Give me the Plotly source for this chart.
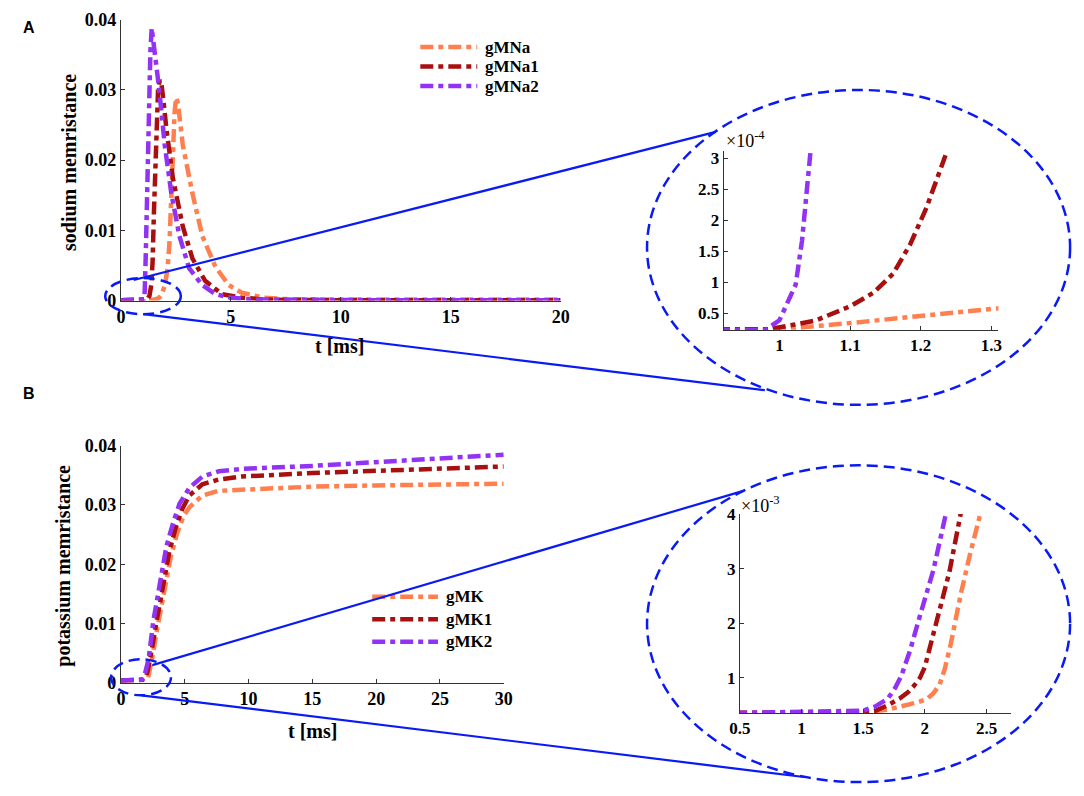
import plotly.graph_objects as go

W, H = 1084, 796

# ---- panel A: sodium memristance (t in ms) ----
na2_t = [0, 0.98, 1.0, 1.023, 1.032, 1.039, 1.044, 1.08, 1.13, 1.17, 1.22, 1.28, 1.34, 1.40,
         1.47, 1.58, 1.69, 1.84, 1.99, 2.29, 2.66, 3.1, 3.7, 4.3, 5.0, 6.0, 8.0, 12, 20]
na2_v = [2.3e-5, 2.3e-5, 3.85e-5, 9.6e-5, 1.67e-4, 2.46e-4, 3.11e-4, 0.0012, 0.0065, 0.0129, 0.020,
         0.0268, 0.0355, 0.0388, 0.0372, 0.034, 0.0314, 0.027, 0.0222, 0.0153, 0.0092, 0.0046, 0.0022,
         0.0009, 0.0004, 0.00015, 0.00006, 0.00004, 0.00004]

na1_t = [0, 0.985, 1.009, 1.051, 1.10, 1.133, 1.161, 1.185, 1.208, 1.237, 1.30, 1.38, 1.44, 1.50,
         1.56, 1.62, 1.69, 1.77, 1.85, 1.95, 2.07, 2.36, 2.81, 3.25, 3.83, 4.6, 5.5, 6.5, 8, 12, 20]
na1_v = [2.3e-5, 2.4e-5, 2.9e-5, 3.8e-5, 6.1e-5, 8.3e-5, 1.14e-4, 1.61e-4, 2.2e-4, 3.11e-4, 0.0007,
         0.0022, 0.0055, 0.0125, 0.020, 0.0268, 0.0302, 0.0314, 0.0307, 0.028, 0.0244, 0.0175, 0.0106,
         0.006, 0.0028, 0.0009, 0.0004, 0.00015, 0.00006, 0.00004, 0.00004]

na_t = [0, 0.98, 1.0, 1.1, 1.2, 1.31, 1.5, 1.7, 1.85, 2.0, 2.12, 2.21, 2.27, 2.33, 2.44, 2.51, 2.6,
        2.81, 3.25, 3.7, 4.3, 4.9, 5.5, 6.5, 7.5, 9, 12, 20]
na_v = [2.3e-5, 2.3e-5, 2.4e-5, 3.4e-5, 4.5e-5, 5.8e-5, 1.1e-4, 3e-4, 0.0008, 0.0022, 0.0045, 0.0083,
        0.014, 0.0199, 0.0268, 0.0289, 0.028, 0.0222, 0.0153, 0.0092, 0.0048, 0.0022, 0.0011, 0.0004,
        0.0002, 0.00015, 0.00015, 0.00015]

# ---- panel B: potassium memristance ----
k2_t = [0, 0.5, 1.5, 1.6, 1.7, 1.76, 1.81, 1.88, 1.94, 2.07, 2.17, 2.54, 3.05, 3.56, 4.08, 4.59,
        5.36, 6.38, 7.67, 9.46, 15, 20, 25, 30]
k2_v = [0.00036, 0.00036, 0.0004, 0.00048, 0.00062, 0.00082, 0.00104, 0.0015, 0.00198, 0.00298,
        0.004, 0.0104, 0.017, 0.023, 0.0269, 0.0302, 0.0329, 0.0348, 0.0357, 0.0361, 0.0366, 0.0372,
        0.0379, 0.0385]

k1_t = [0, 0.5, 1.5, 1.6, 1.7, 1.8, 1.86, 1.91, 1.96, 2.0, 2.1, 2.2, 2.29, 2.8, 3.3, 3.8, 4.3, 4.8,
        5.36, 6.38, 7.67, 9.46, 15, 20, 25, 30]
k1_v = [0.00036, 0.00036, 0.00037, 0.0004, 0.0005, 0.00063, 0.00073, 0.00085, 0.001, 0.0012,
        0.00205, 0.00295, 0.004, 0.0104, 0.0165, 0.0222, 0.0262, 0.0293, 0.0316, 0.0335, 0.0343,
        0.0348, 0.0354, 0.0358, 0.0362, 0.0365]

k_t = [0, 0.5, 1.5, 1.7, 1.85, 1.95, 2.02, 2.07, 2.12, 2.16, 2.21, 2.29, 2.37, 2.44, 2.9, 3.4, 3.9,
       4.4, 4.9, 5.36, 6.38, 7.67, 9.46, 15, 20, 25, 30]
k_v = [0.00036, 0.00036, 0.00037, 0.00042, 0.0005, 0.00056, 0.00062, 0.00072, 0.00088, 0.00115,
       0.00162, 0.00252, 0.0033, 0.004, 0.0098, 0.0158, 0.0212, 0.0252, 0.0281, 0.0296, 0.0316,
       0.0324, 0.0326, 0.0331, 0.0333, 0.0334, 0.0336]

main_ticks = [0, 0.01, 0.02, 0.03, 0.04]
main_ticktext = ['0', '0.01', '0.02', '0.03', '0.04']
insetA_ticks = [0.5e-4, 1e-4, 1.5e-4, 2e-4, 2.5e-4, 3e-4]
insetA_ticktext = ['0.5', '1', '1.5', '2', '2.5', '3']
insetB_ticks = [1e-3, 2e-3, 3e-3, 4e-3]
insetB_ticktext = ['1', '2', '3', '4']

ORANGE = '#FF7F4F'
RED = '#A80F0F'
PURPLE = '#9232F5'
BLUE = '#0A1AF5'
DASH = '13px,5px,5px,5px'
LW = 4.5


def px(x):
    return x / W


def py(y):
    return 1 - y / H


fig = go.Figure()

sodium = [('gMNa', na_t, na_v, ORANGE), ('gMNa1', na1_t, na1_v, RED), ('gMNa2', na2_t, na2_v, PURPLE)]
potassium = [('gMK', k_t, k_v, ORANGE), ('gMK1', k1_t, k1_v, RED), ('gMK2', k2_t, k2_v, PURPLE)]

# each series drawn in the main panel and again in its zoomed inset
for axes, series in [(('x', 'y'), sodium), (('x2', 'y2'), sodium),
                     (('x3', 'y3'), potassium), (('x4', 'y4'), potassium)]:
    for name, t, v, c in series:
        fig.add_trace(go.Scatter(x=t, y=v, name=name, mode='lines', showlegend=False,
                                 line=dict(color=c, width=LW, dash=DASH),
                                 xaxis=axes[0], yaxis=axes[1]))

tickfont = dict(family='Liberation Serif', size=18, color='black', weight='bold')
insetfont = dict(family='Liberation Serif', size=17, color='black', weight='bold')
axstyle = dict(showline=True, linecolor='#333', linewidth=1, ticks='inside', ticklen=4,
               tickcolor='#333', showgrid=False, zeroline=False)

fig.update_layout(
    width=W, height=H, autosize=False,
    margin=dict(l=0, r=0, t=0, b=0),
    plot_bgcolor='white', paper_bgcolor='white', showlegend=False,
    xaxis=dict(domain=[px(112), px(560)], range=[0, 20], tickvals=[0, 5, 10, 15, 20],
               anchor='y', tickfont=tickfont, **axstyle),
    yaxis=dict(domain=[py(298), py(10)], range=[0, 0.04], tickvals=main_ticks,
               ticktext=main_ticktext, anchor='x', tickfont=tickfont, **axstyle),
    xaxis2=dict(domain=[px(726), px(1006)], range=[0.921, 1.31], tickvals=[1, 1.1, 1.2, 1.3],
                anchor='y2', tickfont=insetfont, **axstyle),
    yaxis2=dict(domain=[py(328), py(145)], range=[0.232e-4, 3.115e-4], tickvals=insetA_ticks,
                ticktext=insetA_ticktext, anchor='x2', tickfont=insetfont, **axstyle),
    xaxis3=dict(domain=[px(112), px(502)], range=[0, 30], tickvals=[0, 5, 10, 15, 20, 25, 30],
                anchor='y3', tickfont=tickfont, **axstyle),
    yaxis3=dict(domain=[py(690), py(447)], range=[0, 0.04], tickvals=main_ticks,
                ticktext=main_ticktext, anchor='x3', tickfont=tickfont, **axstyle),
    xaxis4=dict(domain=[px(742.5), px(1019)], range=[0.5, 2.7], tickvals=[0.5, 1, 1.5, 2, 2.5],
                ticktext=['0.5', '1', '1.5', '2', '2.5'], anchor='y4', tickfont=insetfont,
                **axstyle),
    yaxis4=dict(domain=[py(721), py(517)], range=[0.36e-3, 4.0e-3], tickvals=insetB_ticks,
                ticktext=insetB_ticktext, anchor='x4', tickfont=insetfont, **axstyle),
)

labfont = dict(family='Liberation Serif', size=20, color='black', weight='bold')
legfont = dict(family='Liberation Serif', size=17, color='black', weight='bold')
panelfont = dict(family='Liberation Sans', size=16, color='black', weight='bold')
ann = [
    dict(text='A', x=px(18), y=py(18), font=panelfont),
    dict(text='B', x=px(18), y=py(393), font=panelfont),
    dict(text='sodium memristance', x=px(59), y=py(156), textangle=-90, font=labfont),
    dict(text='potassium memristance', x=px(54), y=py(570), textangle=-90, font=labfont),
    dict(text='t [ms]', x=px(335), y=py(345), font=labfont),
    dict(text='t [ms]', x=px(307), y=py(740), font=labfont),
    dict(text='\u00d710<sup>-4</sup>', x=px(726), y=py(133), xanchor='left',
         font=dict(family='Liberation Serif', size=18, color='black')),
    dict(text='\u00d710<sup>-3</sup>', x=px(742), y=py(507), xanchor='left',
         font=dict(family='Liberation Serif', size=18, color='black')),
]

# hand-placed legends (sample line + label), as in the original figure
legendA_y = [38, 58, 78]
legendB_y = [602, 625, 648]
for series, (lx0, lx1), rows in [(sodium, (417, 475), legendA_y),
                                 (potassium, (368, 435), legendB_y)]:
    for (name, t, v, c), ry in zip(series, rows):
        fig.add_shape(type='line', xref='paper', yref='paper', x0=px(lx0), x1=px(lx1),
                      y0=py(ry), y1=py(ry), line=dict(color=c, width=LW, dash=DASH))
        ann.append(dict(text=name, x=px(lx1 + 6), y=py(ry), xanchor='left', font=legfont))

for a in ann:
    a.setdefault('xanchor', 'center')
    fig.add_annotation(xref='paper', yref='paper', showarrow=False, yanchor='middle', **a)

# zoom ellipses and connector lines (pixel positions of the figure)
ellipses = [(96, 275, 173, 312), (648, 82, 1079, 405), (102, 666, 163, 703), (648, 467, 1079, 792)]
for x0, y0, x1, y1 in ellipses:
    fig.add_shape(type='circle', xref='paper', yref='paper', x0=px(x0), x1=px(x1),
                  y0=py(y1), y1=py(y0), line=dict(color=BLUE, width=2.5, dash='11px,6px'))
connectors = [(125, 277, 718, 125), (135, 312, 768, 390), (144, 672, 747, 493), (133, 703, 810, 787)]
for x0, y0, x1, y1 in connectors:
    fig.add_shape(type='line', xref='paper', yref='paper', x0=px(x0), y0=py(y0),
                  x1=px(x1), y1=py(y1), line=dict(color=BLUE, width=2.2))

fig.write_html("out.html", config={'displayModeBar': False},
               post_script="document.body.style.margin='0px';")
